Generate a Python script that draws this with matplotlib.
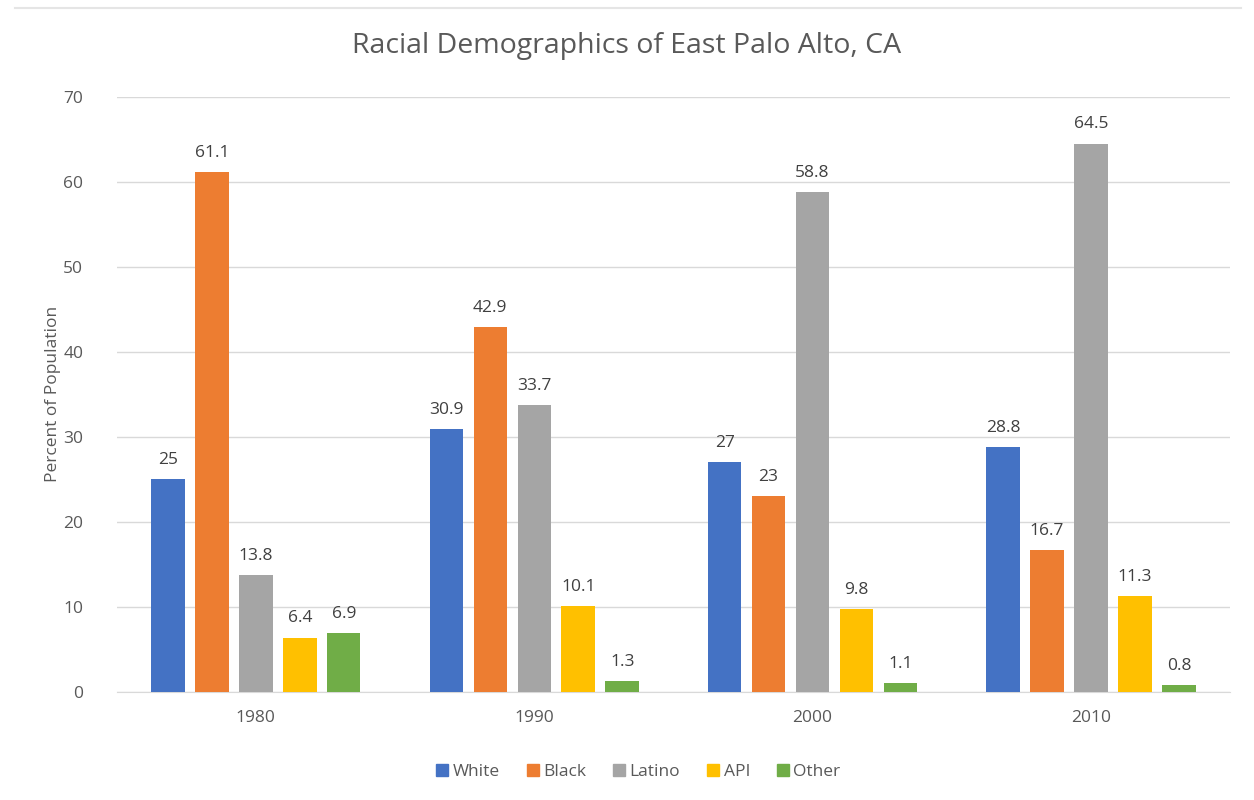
import matplotlib.pyplot as plt
import numpy as np
from matplotlib.lines import Line2D

plt.rcParams['font.family'] = ['Open Sans', 'DejaVu Sans']

# Данные
years = ['1980', '1990', '2000', '2010']
groups = ['White', 'Black', 'Latino', 'API', 'Other']
white = [25, 30.9, 27, 28.8]
black = [61.1, 42.9, 23, 16.7]
latino = [13.8, 33.7, 58.8, 64.5]
api = [6.4, 10.1, 9.8, 11.3]
other = [6.9, 1.3, 1.1, 0.8]
labels = [['25', '30.9', '27', '28.8'],
          ['61.1', '42.9', '23', '16.7'],
          ['13.8', '33.7', '58.8', '64.5'],
          ['6.4', '10.1', '9.8', '11.3'],
          ['6.9', '1.3', '1.1', '0.8']]

colors = ['#4472C4', '#ED7D31', '#A5A5A5', '#FFC000', '#70AD47']
txt = '#595959'

fig = plt.figure(figsize=(12.54, 8), dpi=100)
ax = fig.add_axes([0.093, 0.135, 0.888, 0.744])

x = np.arange(len(years))
pitch = 0.158
width = 0.12
series = [white, black, latino, api, other]
for i, (vals, c) in enumerate(zip(series, colors)):
    pos = x + (i - 2) * pitch
    ax.bar(pos, vals, width, color=c, zorder=3)
    for xp, v, lab in zip(pos, vals, labels[i]):
        ax.annotate(lab, (xp, v), xytext=(0, 8), textcoords='offset points',
                    ha='center', va='bottom', fontsize=12.5, color='#404040')

ax.set_xlim(-0.5, 3.5)
ax.set_ylim(0, 70)
ax.set_yticks(range(0, 71, 10))
ax.set_xticks(x)
ax.set_xticklabels(years)
ax.tick_params(length=0, labelsize=12.5, labelcolor=txt)
ax.tick_params(axis='x', pad=13)
ax.tick_params(axis='y', pad=24)
ax.grid(axis='y', color='#D9D9D9', linewidth=1, zorder=0)
for s in ['top', 'right', 'left']:
    ax.spines[s].set_visible(False)
ax.spines['bottom'].set_color('#D9D9D9')
ax.set_ylabel('Percent of Population', fontsize=12.5, color=txt, labelpad=2)

fig.text(0.5, 0.943, 'Racial Demographics of East Palo Alto, CA',
         ha='center', va='center', fontsize=20.5, color=txt)

handles = [Line2D([], [], marker='s', linestyle='', markersize=9,
                  markerfacecolor=c, markeredgecolor=c) for c in colors]
fig.legend(handles, groups, loc='center', bbox_to_anchor=(0.508, 0.035),
           ncol=5, frameon=False, fontsize=12.5, labelcolor=txt,
           handletextpad=0.1, columnspacing=1.4, handlelength=1.0)

# Рамка сверху
fig.add_artist(Line2D([0.012, 0.99], [0.99, 0.99], color='#E5E5E5', linewidth=1.5))

fig.savefig('out.png', dpi=100, facecolor='white')
